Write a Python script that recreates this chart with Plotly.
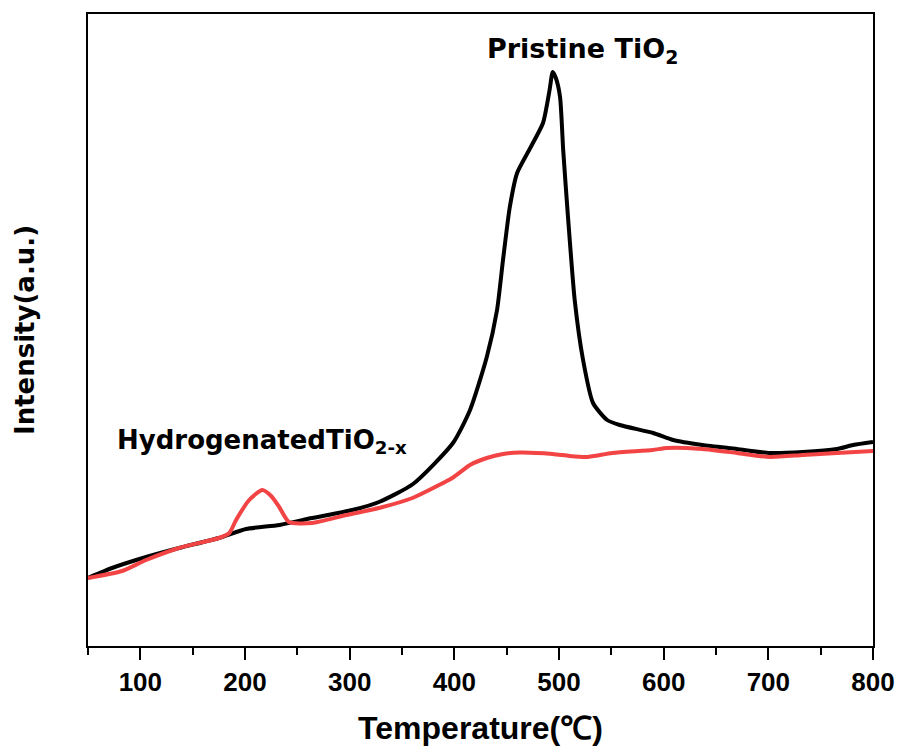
import plotly.graph_objects as go

# H2-TPR profiles: temperature (°C) vs. TCD signal (a.u.)
pristine_T = [50, 73, 105.5, 137, 175, 201, 233, 264, 302.5, 328, 360.5,
              398.7, 415, 431, 440.8, 446.5, 453, 460, 472, 484.7, 491,
              494, 497, 501, 504, 508.6, 515, 523, 532.5, 546, 558, 590, 609,
              637, 670, 701.5, 733, 765.5, 781, 800]
pristine_I = [68, 78, 89, 98, 108, 117, 121, 128, 136, 144, 162,
              203, 236, 289, 336, 386, 439, 473, 497, 523, 556,
              574, 568, 549, 496, 429, 346, 286, 243, 226, 221, 213, 206,
              201, 197, 193, 194, 197, 201, 204]

hydro_T = [50, 82.5, 105.5, 137, 175, 185, 191.5, 204, 216.5, 225, 232.7,
           242, 264, 297, 328, 360, 376, 398, 415, 431, 446.5, 462.7, 494,
           510, 527, 551, 589.5, 603, 637, 670, 701.5, 733, 765.5, 800]
hydro_I = [68, 75, 86, 98, 108, 113, 126, 146, 156, 150, 139,
           124, 123, 131, 138, 148, 156, 168, 181, 188, 192, 193.5, 192,
           190, 189, 193, 196, 198, 197, 193, 189, 191, 193, 195]

x_ticks = [100, 200, 300, 400, 500, 600, 700, 800]

fig = go.Figure()
fig.add_trace(go.Scatter(
    x=pristine_T, y=pristine_I, mode="lines", name="Pristine TiO2",
    line=dict(color="#000000", width=4, shape="spline", smoothing=0.6),
))
fig.add_trace(go.Scatter(
    x=hydro_T, y=hydro_I, mode="lines", name="HydrogenatedTiO2-x",
    line=dict(color="#F24444", width=4, shape="spline", smoothing=0.6),
))

fig.add_annotation(
    x=522, y=596, xref="x", yref="y", showarrow=False,
    text="Pristine TiO<sub>2</sub>",
    font=dict(family="DejaVu Sans", size=27, color="#000000", weight="bold"),
)
fig.add_annotation(
    x=216, y=205, xref="x", yref="y", showarrow=False,
    text="HydrogenatedTiO<sub>2-x</sub>",
    font=dict(family="DejaVu Sans", size=26, color="#000000", weight="bold"),
)

fig.update_xaxes(
    range=[50, 800], tickvals=x_ticks, ticktext=[str(v) for v in x_ticks],
    ticks="outside", ticklen=12, tickwidth=2, tickcolor="#000000",
    minor=dict(dtick=50, tick0=50, ticks="outside", ticklen=7, tickwidth=2,
               tickcolor="#000000"),
    showline=True, linecolor="#000000", linewidth=2, mirror=True,
    showgrid=False, zeroline=False, automargin=False,
    tickfont=dict(family="Liberation Sans", size=26, color="#000000",
                  weight="bold"),
    title=dict(text="Temperature(℃)", standoff=20,
               font=dict(family="Liberation Sans", size=32,
                         color="#000000", weight="bold")),
)
fig.update_yaxes(
    range=[0, 632], showticklabels=False, ticks="",
    showline=True, linecolor="#000000", linewidth=2, mirror=True,
    showgrid=False, zeroline=False, automargin=False,
    title=dict(text="Intensity(a.u.)", standoff=44,
               font=dict(family="DejaVu Sans", size=26, color="#000000",
                         weight="bold")),
)

fig.update_layout(
    width=897, height=746,
    margin=dict(l=88, r=24, t=14, b=100),
    paper_bgcolor="#FFFFFF", plot_bgcolor="#FFFFFF",
    showlegend=False,
)

fig.write_html("out.html")
